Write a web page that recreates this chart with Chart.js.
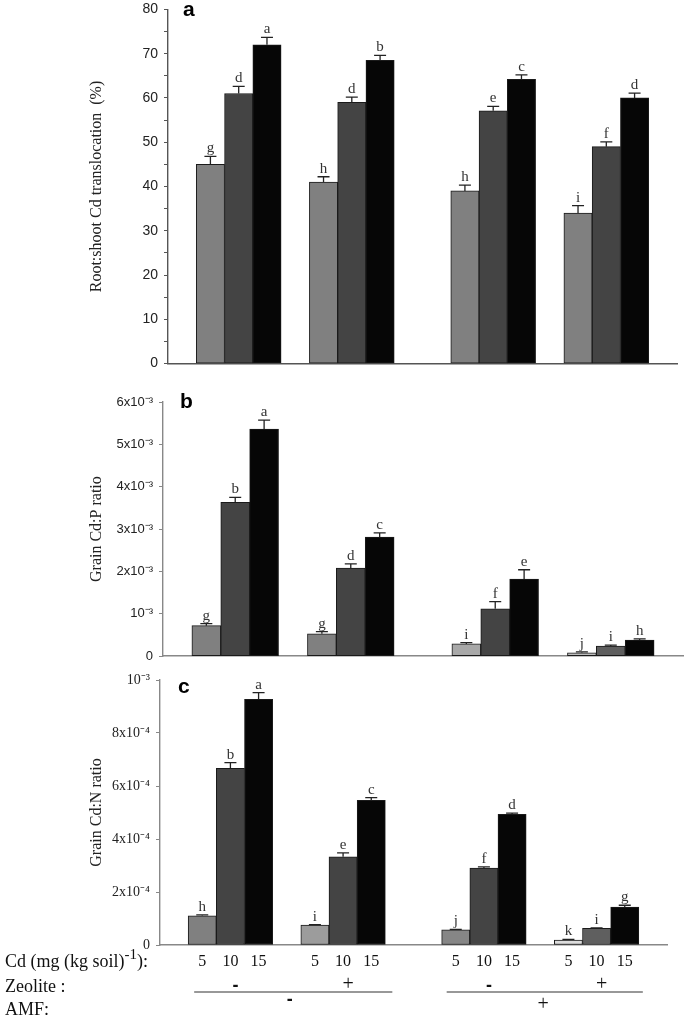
<!DOCTYPE html>
<html>
<head>
<meta charset="utf-8">
<script src="https://cdn.jsdelivr.net/npm/chart.js@4/dist/chart.umd.min.js"></script>
<style>
  body { margin: 0; background: #fff; width: 685px; height: 1016px; position: relative; overflow: hidden; }
  canvas { position: absolute; left: 0; }
</style>
</head>
<body>
<canvas id="chartA" width="685" height="383" style="top:-5px"></canvas>
<canvas id="chartB" width="685" height="284" style="top:386px"></canvas>
<canvas id="chartC" width="685" height="351" style="top:665px"></canvas>
<script>
// 18 slots on the x axis: bars of each group sit side by side, empty slots make the gaps
const slotLabels = ['', '5', '10', '15', '', '5', '10', '15', '', '', '5', '10', '15', '', '5', '10', '15', ''];
const barSlots = [1, 2, 3, 5, 6, 7, 10, 11, 12, 14, 15, 16];
const zeoliteSigns = ['-', '+', '-', '+'];
const amfSigns = ['-', '+'];

// a: Root:shoot Cd translocation (%)
const translocation = [45, 61, 72, 41, 59, 68.5, 39, 57.1, 64.2, 34, 49, 60];
const translocationErr = [1.8, 1.6, 1.7, 1.2, 1.2, 1.1, 1.3, 1.0, 1.0, 1.7, 1.1, 1.1];
const translocationLetters = ['g', 'd', 'a', 'h', 'd', 'b', 'h', 'e', 'c', 'i', 'f', 'd'];

// b: Grain Cd:P ratio
const cdP = [0.00072, 0.00363, 0.00536, 0.00053, 0.00208, 0.00281, 0.00029, 0.00112, 0.00182, 0.00008, 0.00024, 0.00038];
const cdPErr = [0.00005, 0.00012, 0.00021, 0.00005, 0.0001, 0.0001, 0.00003, 0.00017, 0.00022, 0.00002, 0.00002, 0.00003];
const cdPLetters = ['g', 'b', 'a', 'g', 'd', 'c', 'i', 'f', 'e', 'j', 'i', 'h'];

// c: Grain Cd:N ratio
const cdN = [0.00011, 0.000667, 0.000927, 0.000075, 0.000333, 0.000546, 0.000057, 0.00029, 0.000493, 0.000019, 0.000063, 0.000143];
const cdNErr = [0.000004, 0.000021, 0.000025, 0.000002, 0.000015, 0.00001, 0.000002, 0.000005, 0.000005, 0.000002, 0.000002, 0.000007];
const cdNLetters = ['h', 'b', 'a', 'i', 'e', 'c', 'j', 'f', 'd', 'k', 'i', 'g'];

const colorsA = ['#808080', '#444444', '#060606', '#808080', '#444444', '#060606', '#808080', '#444444', '#060606', '#808080', '#444444', '#060606'];
const colorsB = ['#808080', '#444444', '#060606', '#808080', '#444444', '#060606', '#a8a8a8', '#444444', '#060606', '#bdbdbd', '#5e5e5e', '#060606'];
const colorsC = ['#808080', '#444444', '#060606', '#9c9c9c', '#444444', '#060606', '#868686', '#444444', '#060606', '#dcdcdc', '#5f5f5f', '#060606'];

function toSlots(arr) {
    const out = slotLabels.map(() => null);
    barSlots.forEach((s, i) => { out[s] = arr[i]; });
    return out;
}

const SERIF = '"Liberation Serif", "Times New Roman", serif';
const SANS = '"Liberation Sans", Arial, sans-serif';

const errorBarPlugin = {
    id: 'errorBars',
    afterDatasetsDraw(chart) {
        const ds = chart.data.datasets[0];
        const meta = chart.getDatasetMeta(0);
        const y = chart.scales.y;
        const ctx = chart.ctx;
        ctx.save();
        ctx.strokeStyle = '#222';
        ctx.lineWidth = 1.3;
        ctx.fillStyle = '#333';
        ctx.font = '15px ' + SERIF;
        ctx.textAlign = 'center';
        meta.data.forEach((bar, i) => {
            const v = ds.data[i];
            if (v == null) return;
            const top = y.getPixelForValue(v + ds.errors[i]);
            ctx.beginPath();
            ctx.moveTo(bar.x, bar.y);
            ctx.lineTo(bar.x, top);
            ctx.moveTo(bar.x - 6, top);
            ctx.lineTo(bar.x + 6, top);
            ctx.stroke();
            ctx.fillText(ds.letters[i], bar.x, top - 4);
        });
        ctx.restore();
    }
};

const panelLetterPlugin = {
    id: 'panelLetter',
    afterDraw(chart, args, opts) {
        const ctx = chart.ctx;
        ctx.save();
        ctx.font = 'bold 21px ' + SANS;
        ctx.fillStyle = '#000';
        ctx.fillText(opts.text, opts.x, opts.y);
        ctx.restore();
    }
};

// treatment rows under panel c
const treatmentPlugin = {
    id: 'treatments',
    afterDraw(chart) {
        const ctx = chart.ctx;
        const x = chart.scales.x;
        const slot = x.getPixelForValue(1) - x.getPixelForValue(0);
        const groupStart = [1, 5, 10, 14];
        const centers = groupStart.map(s => x.getPixelForValue(s + 1));
        ctx.save();
        ctx.fillStyle = '#111';
        ctx.textBaseline = 'alphabetic';
        // Cd (mg (kg soil)-1):
        ctx.font = '18px ' + SERIF;
        let px = 5;
        const part1 = 'Cd (mg (kg soil)';
        ctx.fillText(part1, px, 302);
        px += ctx.measureText(part1).width;
        ctx.font = '15px ' + SERIF;
        ctx.fillText('-1', px, 294);
        px += ctx.measureText('-1').width;
        ctx.font = '18px ' + SERIF;
        ctx.fillText('):', px, 302);
        ctx.fillText('Zeolite :', 5, 327);
        ctx.fillText('AMF:', 5, 350);

        // lines under the zeolite signs
        ctx.strokeStyle = '#777';
        ctx.lineWidth = 1.3;
        ctx.beginPath();
        ctx.moveTo(x.getPixelForValue(1) - slot / 2 + 6, 327);
        ctx.lineTo(x.getPixelForValue(7) + slot / 2 + 7, 327);
        ctx.moveTo(x.getPixelForValue(10) - slot / 2 + 5, 327);
        ctx.lineTo(x.getPixelForValue(16) + slot / 2 + 4, 327);
        ctx.stroke();

        ctx.textAlign = 'center';
        ctx.textBaseline = 'middle';
        zeoliteSigns.forEach((s, i) => {
            ctx.font = s === '-' ? 'bold 18px ' + SANS : '20px ' + SERIF;
            ctx.fillText(s, centers[i] + 5, s === '-' ? 321 : 320);
        });
        amfSigns.forEach((s, i) => {
            const cx = (centers[i * 2] + centers[i * 2 + 1]) / 2;
            ctx.font = s === '-' ? 'bold 18px ' + SANS : '20px ' + SERIF;
            ctx.fillText(s, cx + 3, s === '-' ? 335 : 340);
        });
        ctx.restore();
    }
};

function makeChart(id, cfg) {
    return new Chart(document.getElementById(id).getContext('2d'), {
        type: 'bar',
        data: {
            labels: slotLabels,
            datasets: [{
                data: toSlots(cfg.values),
                errors: toSlots(cfg.errors),
                letters: toSlots(cfg.letters),
                backgroundColor: toSlots(cfg.colors),
                borderColor: '#1a1a1a',
                borderWidth: 1,
                borderSkipped: false,
                barPercentage: 1,
                categoryPercentage: 1
            }]
        },
        options: {
            responsive: false,
            animation: false,
            layout: { padding: cfg.padding },
            plugins: {
                legend: { display: false },
                tooltip: { enabled: false },
                panelLetter: cfg.letter
            },
            scales: {
                x: {
                    grid: { display: false, drawTicks: false },
                    border: { display: true, color: cfg.axisColor, width: 1.6 },
                    ticks: {
                        display: cfg.showX,
                        autoSkip: false,
                        maxRotation: 0,
                        padding: 7,
                        color: '#111',
                        font: { family: SERIF, size: 16 }
                    },
                    afterFit: (scale) => { scale.height = cfg.xHeight; }
                },
                y: {
                    min: 0,
                    max: cfg.max,
                    grid: { display: true, drawOnChartArea: false, drawTicks: true, tickLength: 4, color: cfg.axisColor },
                    border: { display: true, color: cfg.axisColor, width: 1.4 },
                    ticks: {
                        stepSize: cfg.step,
                        padding: 6,
                        color: '#222',
                        font: cfg.tickFont,
                        callback: cfg.tickLabel
                    },
                    title: {
                        display: true,
                        text: cfg.title,
                        color: '#222',
                        font: { family: SERIF, size: 16 },
                        padding: { top: 87 }
                    },
                    afterFit: (scale) => { scale.width = cfg.yWidth; }
                }
            }
        },
        plugins: [errorBarPlugin, panelLetterPlugin].concat(cfg.extra || [])
    });
}

makeChart('chartA', {
    values: translocation, errors: translocationErr, letters: translocationLetters, colors: colorsA,
    padding: { top: 8, right: 8, left: 0, bottom: 0 },
    max: 80, step: 5, yWidth: 168, xHeight: 7, showX: false, axisColor: '#555',
    tickFont: { family: SANS, size: 14 },
    tickLabel: (v) => (v % 10 === 0 ? String(v) : ''),
    title: 'Root:shoot Cd translocation  (%)',
    letter: { text: 'a', x: 183, y: 21 }
});

makeChart('chartB', {
    values: cdP, errors: cdPErr, letters: cdPLetters, colors: colorsB,
    padding: { top: 16, right: 2, left: 0, bottom: 0 },
    max: 0.006, step: 0.001, yWidth: 163, xHeight: 7, showX: false, axisColor: '#888',
    tickFont: { family: SANS, size: 13 },
    tickLabel: (v) => {
        const n = Math.round(v * 1000);
        if (n === 0) return '0';
        if (n === 1) return '10\u207B\u00B3';
        return n + 'x10\u207B\u00B3';
    },
    title: 'Grain Cd:P ratio',
    letter: { text: 'b', x: 180, y: 22 }
});

makeChart('chartC', {
    values: cdN, errors: cdNErr, letters: cdNLetters, colors: colorsC,
    padding: { top: 15, right: 18, left: 0, bottom: 0 },
    max: 0.001, step: 0.0002, yWidth: 160, xHeight: 71, showX: true, axisColor: '#888',
    tickFont: { family: SERIF, size: 14 },
    tickLabel: (v) => {
        const n = Math.round(v * 10000);
        if (n === 0) return '0';
        if (n === 10) return '10\u207B\u00B3';
        return n + 'x10\u207B\u2074';
    },
    title: 'Grain Cd:N ratio',
    letter: { text: 'c', x: 178, y: 28 },
    extra: [treatmentPlugin]
});
</script>
</body>
</html>
